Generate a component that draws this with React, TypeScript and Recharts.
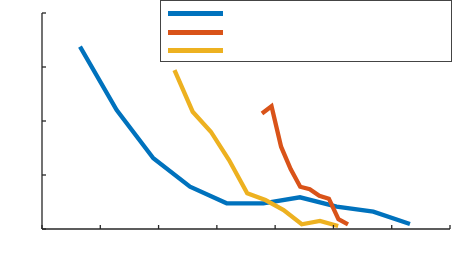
import React from "react";
import { LineChart, Line, XAxis, YAxis } from "recharts";

// x positions of the samples for each series
const blueX = [0.652, 1.281, 1.91, 2.539, 3.168, 3.797, 4.426, 5.055, 5.684, 6.313];
const blueY = [3.376, 2.204, 1.309, 0.783, 0.476, 0.476, 0.587, 0.413, 0.32, 0.093];

const yellowX = [2.273, 2.585, 2.897, 3.209, 3.521, 3.833, 4.145, 4.457, 4.769, 5.081];
const yellowY = [2.944, 2.172, 1.802, 1.278, 0.661, 0.537, 0.352, 0.087, 0.148, 0.056];

const orangeX = [3.774, 3.938, 4.102, 4.266, 4.43, 4.594, 4.758, 4.922, 5.086, 5.25];
const orangeY = [2.139, 2.272, 1.524, 1.111, 0.783, 0.737, 0.615, 0.561, 0.181, 0.087];

const xTicks = [0, 1, 2, 3, 4, 5, 6, 7];
const yTicks = [0, 1, 2, 3, 4];

const toPoints = (xs: number[], ys: number[]) => xs.map((x, i) => ({ x, y: ys[i] }));

const series = [
  { key: "blue", color: "#0072BD", data: toPoints(blueX, blueY) },
  { key: "orange", color: "#D95319", data: toPoints(orangeX, orangeY) },
  { key: "yellow", color: "#EDB120", data: toPoints(yellowX, yellowY) },
];

const axisColor = "#262626";
const noLabel = () => <g />;

export default function App() {
  return (
    <div style={{ position: "absolute", left: 0, top: 0, width: 462, height: 265, background: "#fff" }}>
      <LineChart width={462} height={265} margin={{ top: 13, right: 12, bottom: 35, left: 41 }}>
        <XAxis
          type="number"
          dataKey="x"
          domain={[0, 7]}
          ticks={xTicks}
          height={1}
          tick={noLabel}
          tickSize={-4}
          tickLine={{ stroke: axisColor, strokeWidth: 1.3 }}
          stroke={axisColor}
          strokeWidth={1.3}
          interval={0}
          allowDuplicatedCategory={false}
        />
        <YAxis
          type="number"
          dataKey="y"
          domain={[0, 4]}
          ticks={yTicks}
          width={1}
          tick={noLabel}
          tickSize={-4}
          tickLine={{ stroke: axisColor, strokeWidth: 1.3 }}
          stroke={axisColor}
          strokeWidth={1.3}
          interval={0}
        />
        {series.map((s) => (
          <Line
            key={s.key}
            data={s.data}
            dataKey="y"
            type="linear"
            stroke={s.color}
            strokeWidth={4.3}
            dot={false}
            activeDot={false}
            isAnimationActive={false}
          />
        ))}
      </LineChart>
      <div
        style={{
          position: "absolute",
          left: 160,
          top: 0,
          width: 290,
          height: 60,
          border: "1.5px solid #444",
          background: "#fff",
        }}
      >
        {series.map((s, i) => (
          <div
            key={s.key}
            style={{
              position: "absolute",
              left: 7,
              top: 10 + i * 18.5,
              width: 55,
              height: 5,
              background: s.color,
            }}
          />
        ))}
      </div>
    </div>
  );
}
